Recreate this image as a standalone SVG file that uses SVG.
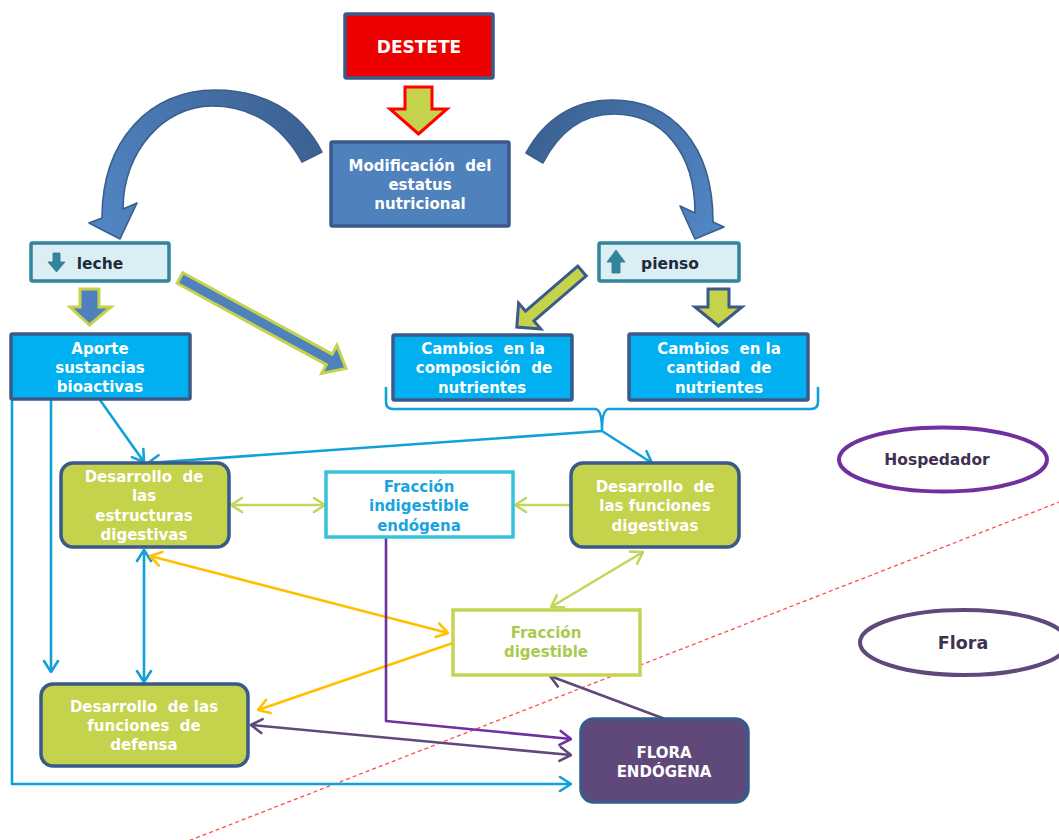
<svg xmlns="http://www.w3.org/2000/svg" width="1059" height="840" viewBox="0 0 1059 840">
  <style>
    text { font-family: "DejaVu Sans", "Liberation Sans", sans-serif; font-weight: bold; font-size: 15px; text-anchor: middle; white-space: pre; }
    .w { fill: #ffffff; }
    .box { stroke: #3A5A8A; stroke-width: 3.5; }
    .blue { fill: #00B0F0; }
    .olive { fill: #C5D24C; }
    .ln { fill: none; stroke-width: 2.6; stroke-linejoin: round; }
    .cb { stroke: #12A0D8; }
    .cg { stroke: #C3D55A; }
    .co { stroke: #FFC000; }
    .cp { stroke: #7030A0; }
    .cd { stroke: #5F497A; }
    .block { stroke-width: 3; stroke-linejoin: miter; }
  </style>
  <defs>
    <marker id="mb" viewBox="0 0 14 18" refX="13" refY="9" markerWidth="14" markerHeight="18" markerUnits="userSpaceOnUse" orient="auto-start-reverse">
      <path d="M2,2 L13,9 L2,16" fill="none" stroke="#12A0D8" stroke-width="2.6" stroke-linecap="round" stroke-linejoin="round"/>
    </marker>
    <marker id="mg" viewBox="0 0 14 18" refX="13" refY="9" markerWidth="14" markerHeight="18" markerUnits="userSpaceOnUse" orient="auto-start-reverse">
      <path d="M2,2 L13,9 L2,16" fill="none" stroke="#C3D55A" stroke-width="2.6" stroke-linecap="round" stroke-linejoin="round"/>
    </marker>
    <marker id="mo" viewBox="0 0 14 18" refX="13" refY="9" markerWidth="14" markerHeight="18" markerUnits="userSpaceOnUse" orient="auto-start-reverse">
      <path d="M2,2 L13,9 L2,16" fill="none" stroke="#FFC000" stroke-width="2.6" stroke-linecap="round" stroke-linejoin="round"/>
    </marker>
    <marker id="mp" viewBox="0 0 14 18" refX="13" refY="9" markerWidth="14" markerHeight="18" markerUnits="userSpaceOnUse" orient="auto-start-reverse">
      <path d="M2,2 L13,9 L2,16" fill="none" stroke="#7030A0" stroke-width="2.6" stroke-linecap="round" stroke-linejoin="round"/>
    </marker>
    <marker id="md" viewBox="0 0 14 18" refX="13" refY="9" markerWidth="14" markerHeight="18" markerUnits="userSpaceOnUse" orient="auto-start-reverse">
      <path d="M2,2 L13,9 L2,16" fill="none" stroke="#5F497A" stroke-width="2.6" stroke-linecap="round" stroke-linejoin="round"/>
    </marker>
    <linearGradient id="gl" gradientUnits="userSpaceOnUse" x1="310" y1="150" x2="110" y2="235">
      <stop offset="0" stop-color="#3D6394"/>
      <stop offset="1" stop-color="#5084C2"/>
    </linearGradient>
    <linearGradient id="gr" gradientUnits="userSpaceOnUse" x1="535" y1="150" x2="700" y2="235">
      <stop offset="0" stop-color="#3D6394"/>
      <stop offset="1" stop-color="#5084C2"/>
    </linearGradient>
  </defs>

  <rect width="1059" height="840" fill="#ffffff"/>

  <!-- host / flora boundary -->
  <line x1="183" y1="843" x2="1062" y2="501" stroke="#FF4D4D" stroke-width="1.3" stroke-dasharray="4 3"/>

  <!-- block arrows -->
  <g id="block-arrows">
    <path d="M405,87 H432 V109 H447 L418.5,134 L390,109 H405 Z" fill="#C5D24C" stroke="#FF0000" class="block"/>
    <path d="M322,152 C300,110 262,90 215,90 C150,90 102,140 102,218 L89,223 L120,239 L137,203 L123,209 C123,150 165,106 212,106 C250,106 282,125 302,162 Z" fill="url(#gl)" stroke="#3A5E8E" stroke-width="1.6" stroke-linejoin="round"/>
    <path d="M526,153 C545,118 575,100 612,100 C672,100 713,145 713,222 L724,227 L695,239 L680,206 L695,213 C695,152 662,114 614,114 C585,114 560,130 543,163 Z" fill="url(#gr)" stroke="#3A5E8E" stroke-width="1.6" stroke-linejoin="round"/>
    <path d="M80,289 H99 V307 H111 L89.5,325 L70,307 H80 Z" fill="#4F81BD" stroke="#C5D24C" class="block"/>
    <path d="M0,-6 H170 V-16 L189,0 L170,16 V6 H0 Z" transform="translate(180,278) rotate(28.6)" fill="#4F81BD" stroke="#C5D24C" class="block"/>
    <path d="M0,-6.5 H69 V-17 L86,0 L69,17 V6.5 H0 Z" transform="translate(582,271) rotate(139.3)" fill="#C5D24C" stroke="#3A5A8A" class="block"/>
    <path d="M708,289 H729 V307 H742 L718.5,326 L695,307 H708 Z" fill="#C5D24C" stroke="#3A5A8A" class="block"/>
  </g>

  <!-- connectors -->
  <g id="connectors">
    <path class="ln cb" d="M386,387 V402 Q386,409 393,409 H595 Q602,409 602,430 Q602,409 609,409 H811 Q818,409 818,402 V387"/>
    <path class="ln cb" d="M12,400 V784 H571" marker-end="url(#mb)"/>
    <path class="ln cb" d="M51,400 V672" marker-end="url(#mb)"/>
    <path class="ln cb" d="M100,400 L144,462" marker-end="url(#mb)"/>
    <path class="ln cb" d="M602,431 L148,463" marker-end="url(#mb)"/>
    <path class="ln cb" d="M602,431 L652,463" marker-end="url(#mb)"/>
    <path class="ln cb" d="M144,550 V682" marker-start="url(#mb)" marker-end="url(#mb)"/>
    <path class="ln cg" d="M231,505 H325" marker-start="url(#mg)" marker-end="url(#mg)"/>
    <path class="ln cg" d="M570,505 H515" marker-end="url(#mg)"/>
    <path class="ln cg" d="M551,607 L643,552" marker-start="url(#mg)" marker-end="url(#mg)"/>
    <path class="ln co" d="M150,556 L448,633" marker-start="url(#mo)" marker-end="url(#mo)"/>
    <path class="ln co" d="M453,643 L258,710" marker-end="url(#mo)"/>
    <path class="ln cp" d="M386,538 V721 L571,739" marker-end="url(#mp)"/>
    <path class="ln cd" d="M251,725 L571,755" marker-start="url(#md)" marker-end="url(#md)"/>
    <path class="ln cd" d="M665,719 L550,676" marker-end="url(#md)"/>
  </g>

  <g id="destete">
    <rect x="345" y="14" width="148" height="64" rx="1.5" fill="#EE0000" class="box"/>
    <text x="419" y="53" class="w" style="font-size:17px">DESTETE</text>
  </g>

  <g id="modificacion">
    <rect x="331" y="142" width="178" height="84" rx="1.5" fill="#4F81BD" class="box"/>
    <text x="420" y="171" class="w">Modificación  del</text>
    <text x="420" y="190" class="w">estatus</text>
    <text x="420" y="209" class="w">nutricional</text>
  </g>

  <g id="leche">
    <rect x="31" y="243" width="138" height="38" rx="1.5" fill="#DBEEF4" stroke="#31859C" stroke-width="3.5"/>
    <path d="M53,253 H60 V262 H65 L56.5,272 L48,262 H53 Z" fill="#31859C" stroke="#2B7A8E" stroke-width="0.8"/>
    <text x="100" y="269" fill="#1D2B3A" style="font-size:15.5px">leche</text>
  </g>

  <g id="pienso">
    <rect x="599" y="243" width="140" height="38" rx="1.5" fill="#DBEEF4" stroke="#31859C" stroke-width="3.5"/>
    <path d="M612,273 H620 V262 H625 L616,250 L607,262 H612 Z" fill="#31859C" stroke="#2B7A8E" stroke-width="0.8"/>
    <text x="670" y="269" fill="#1D2B3A" style="font-size:15.5px">pienso</text>
  </g>

  <g id="aporte">
    <rect x="11" y="334" width="179" height="65" rx="1.5" class="box blue"/>
    <text x="100" y="354" class="w">Aporte</text>
    <text x="100" y="373" class="w">sustancias</text>
    <text x="100" y="392" class="w">bioactivas</text>
  </g>

  <g id="cambios-composicion">
    <rect x="393" y="335" width="179" height="65" rx="1.5" class="box blue"/>
    <text x="483" y="354" class="w">Cambios  en la</text>
    <text x="484" y="373" class="w">composición  de</text>
    <text x="482" y="393" class="w">nutrientes</text>
  </g>

  <g id="cambios-cantidad">
    <rect x="629" y="334" width="179" height="66" rx="1.5" class="box blue"/>
    <text x="719" y="354" class="w">Cambios  en la</text>
    <text x="719" y="373" class="w">cantidad  de</text>
    <text x="719" y="393" class="w">nutrientes</text>
  </g>

  <g id="desarrollo-estructuras">
    <rect x="61" y="463" width="168" height="84" rx="12" class="box olive"/>
    <text x="144" y="482" class="w">Desarrollo  de</text>
    <text x="144" y="501" class="w">las</text>
    <text x="144" y="521" class="w">estructuras</text>
    <text x="144" y="540" class="w">digestivas</text>
  </g>

  <g id="fraccion-indigestible">
    <rect x="326" y="472" width="187" height="65" fill="#ffffff" stroke="#36C2DC" stroke-width="3.5"/>
    <text x="419" y="492" fill="#19A3DF">Fracción</text>
    <text x="419" y="511" fill="#19A3DF">indigestible</text>
    <text x="419" y="531" fill="#19A3DF">endógena</text>
  </g>

  <g id="desarrollo-funciones-digestivas">
    <rect x="571" y="463" width="168" height="84" rx="12" class="box olive"/>
    <text x="655" y="492" class="w">Desarrollo  de</text>
    <text x="655" y="511" class="w">las funciones</text>
    <text x="655" y="531" class="w">digestivas</text>
  </g>

  <g id="fraccion-digestible">
    <rect x="453" y="610" width="187" height="65" fill="#ffffff" stroke="#C5D552" stroke-width="3.5"/>
    <text x="546" y="638" fill="#A9CA4E">Fracción</text>
    <text x="546" y="657" fill="#A9CA4E">digestible</text>
  </g>

  <g id="desarrollo-defensa">
    <rect x="41" y="684" width="207" height="82" rx="12" class="box olive"/>
    <text x="144" y="712" class="w">Desarrollo  de las</text>
    <text x="144" y="731" class="w">funciones  de</text>
    <text x="144" y="750" class="w">defensa</text>
  </g>

  <g id="flora-endogena">
    <rect x="581" y="719" width="167" height="83" rx="13" fill="#5F497A" class="box"/>
    <text x="664" y="758" class="w">FLORA</text>
    <text x="664" y="777" class="w">ENDÓGENA</text>
  </g>

  <g id="hospedador">
    <ellipse cx="943" cy="459.5" rx="104" ry="32" fill="#ffffff" stroke="#7030A0" stroke-width="4"/>
    <text x="937" y="465" fill="#3F3151" style="font-size:15.5px">Hospedador</text>
  </g>

  <g id="flora">
    <ellipse cx="964" cy="642.5" rx="104" ry="32.5" fill="#ffffff" stroke="#5F497A" stroke-width="4"/>
    <text x="963" y="649" fill="#3F3151" style="font-size:17.5px">Flora</text>
  </g>
</svg>
